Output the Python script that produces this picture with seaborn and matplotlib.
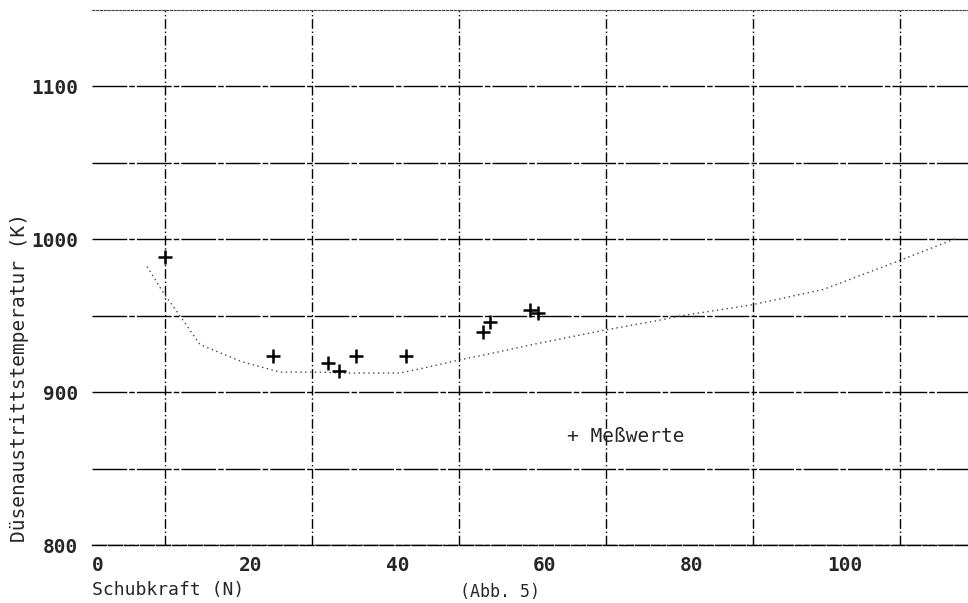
import numpy as np
import pandas as pd
import matplotlib
matplotlib.use('Agg')
import matplotlib.pyplot as plt
import seaborn as sns

# measured points (Meßwerte)
mess_x = [9.9, 24.6, 32.1, 33.6, 35.9, 42.7, 53.2, 54.1, 59.6, 60.7]
mess_y = [988, 923.5, 919, 914, 923.5, 923.5, 939, 946, 953.6, 951.6]

# calculated curve
kurve_x = [7.5, 9.7, 11.7, 14.7, 20.5, 23.3, 25.6, 31.0, 34.7, 41.9, 46.4, 50.0, 54.6,
           59.6, 69.8, 77.3, 80.0, 89.8, 99.5, 109.7, 117.7]
kurve_y = [982, 965, 951.6, 931, 919.6, 916, 913, 913, 912.4, 912.4, 917, 921, 925.5,
           930.7, 940.5, 947, 949.7, 957, 967, 985.6, 1000.6]

x_ticks = [0, 20, 40, 60, 80, 100]
x_grid = [10, 30, 50, 70, 90, 110]
y_ticks = [800, 900, 1000, 1100]
y_grid = [850, 950, 1050]

sns.set_style("white")
plt.rcParams['font.family'] = ['DejaVu Sans Mono', 'DejaVu Sans']

fig = plt.figure(figsize=(9.68, 6.03), dpi=100)
ax = fig.add_axes([92/968, 58/603, 1 - 92/968, (545-10)/603])

kurve = pd.DataFrame({'x': kurve_x, 'y': kurve_y})
mess = pd.DataFrame({'x': mess_x, 'y': mess_y})

sns.lineplot(data=kurve, x='x', y='y', ax=ax, color='#444444', lw=1.0,
             linestyle=(0, (1, 2.5)), zorder=3)
sns.scatterplot(data=mess, x='x', y='y', ax=ax, marker='+', s=110, color='black',
                linewidth=1.8, zorder=4)

ax.set_xlim(0, 119.2)
ax.set_ylim(800, 1149.7)

ax.set_xticks(x_ticks)
ax.set_xticks(x_grid, minor=True)
ax.set_yticks(y_ticks)
ax.set_yticks(y_grid, minor=True)
ax.set_xticklabels([str(v) for v in x_ticks], ha='left', fontsize=14, fontweight='bold')
ax.set_yticklabels([str(v) for v in y_ticks], fontsize=14, fontweight='bold')
ax.tick_params(axis='x', which='both', length=0, pad=8)
ax.tick_params(axis='y', which='both', length=0, pad=10)

ax.grid(False)
ax.grid(True, axis='x', which='minor', color='black', lw=1.0, linestyle=(0, (7, 2, 1, 2)))
ax.grid(True, axis='y', which='both', color='black', lw=1.0, linestyle=(0, (25, 1.5, 4, 1.5)))

for s in ['left', 'right']:
    ax.spines[s].set_visible(False)
ax.spines['top'].set_linestyle((0, (2, 1.5)))
ax.spines['top'].set_linewidth(0.8)
ax.spines['top'].set_color('#444444')
ax.spines['bottom'].set_linestyle((0, (10, 1.5)))
ax.spines['bottom'].set_linewidth(1.0)
ax.spines['bottom'].set_color('black')

ax.set_xlabel('')
ax.set_ylabel('')

ax.text(64.6, 870.6, '+ Meßwerte', fontsize=14, va='center', ha='left')

fig.text(20/968, 1 - 378/603, 'Düsenaustrittstemperatur (K)', rotation=90,
         fontsize=14, va='center', ha='center')
fig.text(92/968, 1 - 590/603, 'Schubkraft (N)', fontsize=13, va='center', ha='left')
fig.text(500/968, 0.003, '(Abb. 5)', fontsize=12, va='bottom', ha='center')

fig.savefig('out.png', dpi=100)
